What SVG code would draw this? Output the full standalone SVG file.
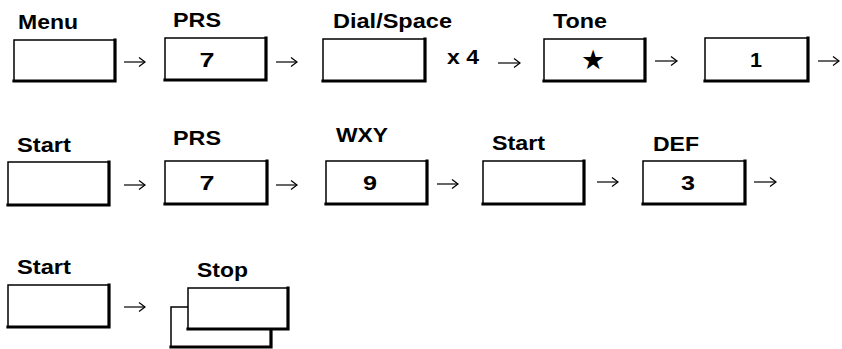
<svg xmlns="http://www.w3.org/2000/svg" width="842" height="349" viewBox="0 0 842 349">
<style>
  .lbl { font-family: "Liberation Sans", Arial, sans-serif; font-weight: bold; font-size: 20px; fill: #000; }
  .key { font-family: "Liberation Sans", Arial, sans-serif; font-weight: bold; font-size: 21px; fill: #000; text-anchor: middle; }
  .sym { font-family: "DejaVu Sans", sans-serif; font-size: 27px; fill: #000; text-anchor: middle; }
  .face { fill: #fff; stroke: #000; stroke-width: 1.5; }
  .edge { fill: none; stroke: #000; stroke-width: 3.2; stroke-linecap: square; }
  .arr { fill: none; stroke: #000; stroke-width: 1.2; }
</style>
<defs>
  <marker id="ah" markerWidth="10" markerHeight="10" refX="8" refY="5" orient="auto" markerUnits="userSpaceOnUse">
    <path d="M2,0.5 L8,5 L2,9.5" fill="none" stroke="#000" stroke-width="1.2"/>
  </marker>
</defs>

<g id="menu">
  <text class="lbl" x="18" y="29" textLength="60" lengthAdjust="spacingAndGlyphs">Menu</text>
  <rect class="face" x="14" y="40" width="101" height="41"/>
  <path class="edge" d="M115,40 V81 H14"/>
</g>
<g id="prs1">
  <text class="lbl" x="173" y="27" textLength="48" lengthAdjust="spacingAndGlyphs">PRS</text>
  <rect class="face" x="165" y="38" width="101" height="42"/>
  <path class="edge" d="M266,38 V80 H165"/>
  <text class="key" x="207" y="67" textLength="15" lengthAdjust="spacingAndGlyphs">7</text>
</g>
<g id="dial">
  <text class="lbl" x="333" y="28" textLength="119" lengthAdjust="spacingAndGlyphs">Dial/Space</text>
  <rect class="face" x="323" y="39" width="102" height="42"/>
  <path class="edge" d="M425,39 V81 H323"/>
  <text class="lbl" x="447" y="64" textLength="32" lengthAdjust="spacingAndGlyphs">x 4</text>
</g>
<g id="tone">
  <text class="lbl" x="553" y="28" textLength="54" lengthAdjust="spacingAndGlyphs">Tone</text>
  <rect class="face" x="544" y="39" width="101" height="42"/>
  <path class="edge" d="M645,39 V81 H544"/>
  <text class="sym" x="593" y="69">★</text>
</g>
<g id="one">
  <rect class="face" x="705" y="38" width="103" height="43"/>
  <path class="edge" d="M808,38 V81 H705"/>
  <text class="key" x="756" y="67" textLength="12" lengthAdjust="spacingAndGlyphs">1</text>
</g>

<g id="start1">
  <text class="lbl" x="17" y="152" textLength="54" lengthAdjust="spacingAndGlyphs">Start</text>
  <rect class="face" x="8" y="162" width="101" height="43"/>
  <path class="edge" d="M109,162 V205 H8"/>
</g>
<g id="prs2">
  <text class="lbl" x="173" y="145" textLength="48" lengthAdjust="spacingAndGlyphs">PRS</text>
  <rect class="face" x="165" y="161" width="102" height="43"/>
  <path class="edge" d="M267,161 V204 H165"/>
  <text class="key" x="207" y="190" textLength="15" lengthAdjust="spacingAndGlyphs">7</text>
</g>
<g id="wxy">
  <text class="lbl" x="336" y="142" textLength="52" lengthAdjust="spacingAndGlyphs">WXY</text>
  <rect class="face" x="326" y="161" width="101" height="43"/>
  <path class="edge" d="M427,161 V204 H326"/>
  <text class="key" x="370" y="190" textLength="14" lengthAdjust="spacingAndGlyphs">9</text>
</g>
<g id="start2">
  <text class="lbl" x="492" y="150" textLength="53" lengthAdjust="spacingAndGlyphs">Start</text>
  <rect class="face" x="483" y="161" width="101" height="43"/>
  <path class="edge" d="M584,161 V204 H483"/>
</g>
<g id="def">
  <text class="lbl" x="653" y="151" textLength="46" lengthAdjust="spacingAndGlyphs">DEF</text>
  <rect class="face" x="643" y="161" width="102" height="43"/>
  <path class="edge" d="M745,161 V204 H643"/>
  <text class="key" x="688" y="190" textLength="14" lengthAdjust="spacingAndGlyphs">3</text>
</g>

<g id="start3">
  <text class="lbl" x="17" y="274" textLength="54" lengthAdjust="spacingAndGlyphs">Start</text>
  <rect class="face" x="8" y="285" width="101" height="42"/>
  <path class="edge" d="M109,285 V327 H8"/>
</g>
<g id="stop">
  <text class="lbl" x="197" y="277" textLength="51" lengthAdjust="spacingAndGlyphs">Stop</text>
  <rect class="face" x="171" y="307" width="100" height="40"/>
  <path class="edge" d="M271,307 V347 H171"/>
  <rect class="face" x="188" y="288" width="100" height="41"/>
  <path class="edge" d="M288,288 V329 H188"/>
</g>

<g id="connectors">
  <line class="arr" x1="124" y1="62" x2="145" y2="62" marker-end="url(#ah)"/>
  <line class="arr" x1="276" y1="62" x2="297" y2="62" marker-end="url(#ah)"/>
  <line class="arr" x1="498" y1="63" x2="520" y2="63" marker-end="url(#ah)"/>
  <line class="arr" x1="655" y1="61" x2="677" y2="61" marker-end="url(#ah)"/>
  <line class="arr" x1="818" y1="61" x2="839" y2="61" marker-end="url(#ah)"/>
  <line class="arr" x1="124" y1="185" x2="145" y2="185" marker-end="url(#ah)"/>
  <line class="arr" x1="276" y1="185" x2="297" y2="185" marker-end="url(#ah)"/>
  <line class="arr" x1="437" y1="184" x2="458" y2="184" marker-end="url(#ah)"/>
  <line class="arr" x1="597" y1="182" x2="618" y2="182" marker-end="url(#ah)"/>
  <line class="arr" x1="754" y1="182" x2="776" y2="182" marker-end="url(#ah)"/>
  <line class="arr" x1="124" y1="307" x2="145" y2="307" marker-end="url(#ah)"/>
</g>
</svg>
